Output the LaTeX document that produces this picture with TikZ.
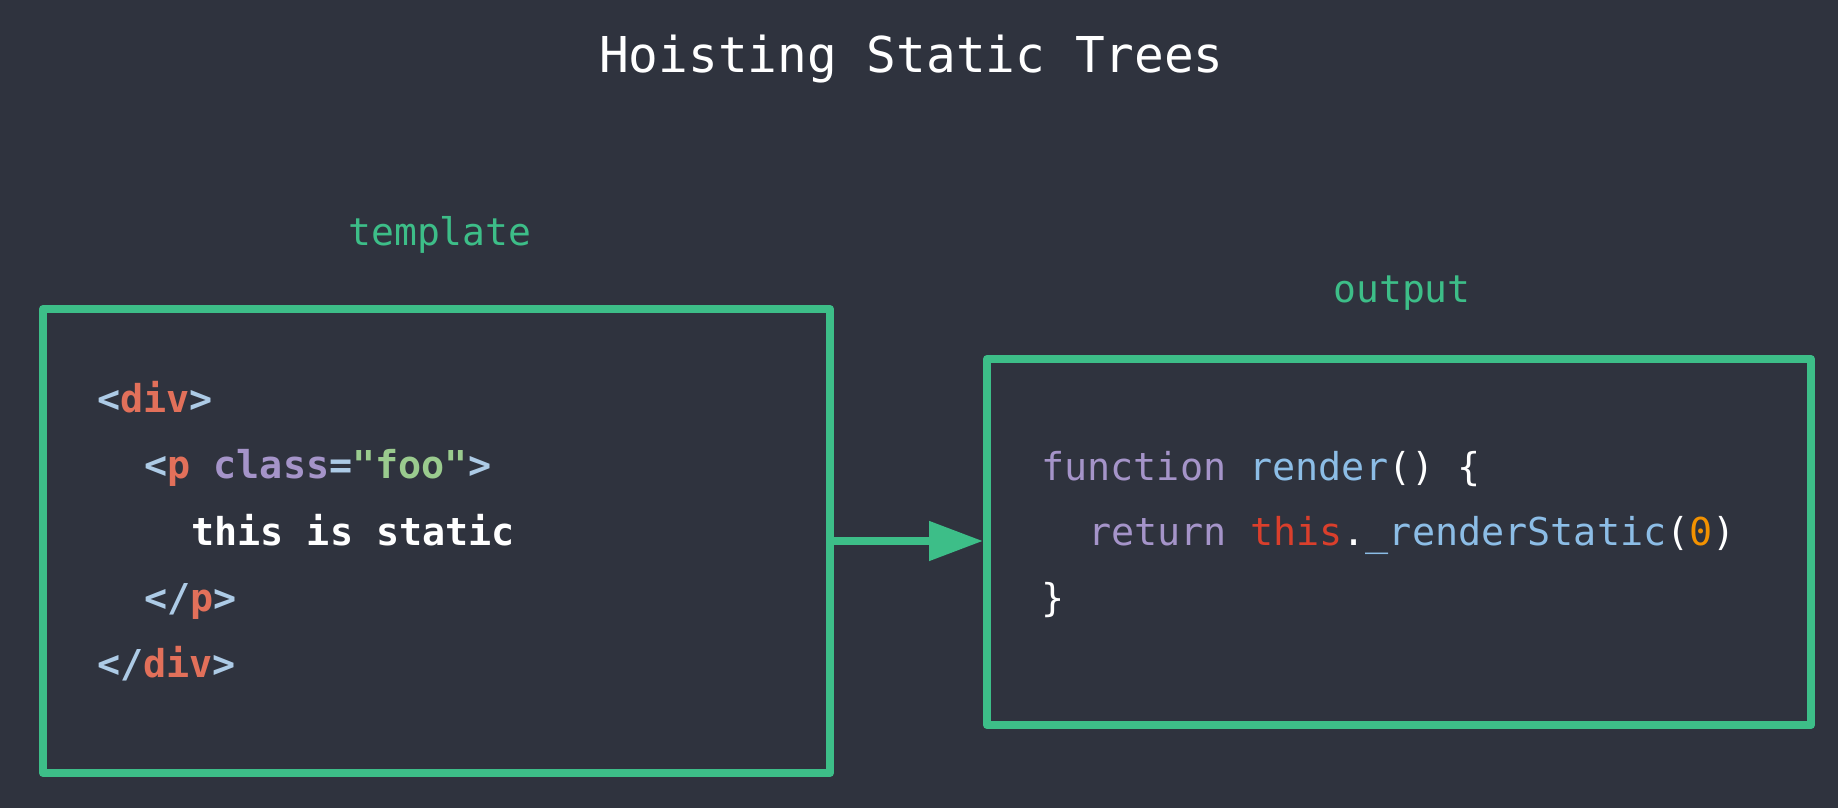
\documentclass[tikz,border=0pt]{standalone}
\usepackage{fontspec}
\setmonofont{DejaVu Sans Mono}
\usetikzlibrary{arrows.meta}
\definecolor{bg}{HTML}{2F333E}
\definecolor{vgreen}{HTML}{3DBE88}
\definecolor{tagblue}{HTML}{ADCBE6}
\definecolor{tagred}{HTML}{E2705A}
\definecolor{attrpurple}{HTML}{A594C9}
\definecolor{strgreen}{HTML}{9ACB8E}
\definecolor{fnblue}{HTML}{8CBDE6}
\definecolor{thisred}{HTML}{DA3F2C}
\definecolor{numorange}{HTML}{F39200}
\begin{document}
\begin{tikzpicture}[x=0.5pt,y=-0.5pt,
  box/.style={draw=vgreen,line width=4pt,line join=round,inner sep=0pt},
  code/.style={anchor=base west,inner sep=0pt,text=white,font=\ttfamily\fontsize{19.2}{24}\selectfont},
  boldcode/.style={code,font=\ttfamily\bfseries\fontsize{19.2}{24}\selectfont},
  label/.style={anchor=base,inner sep=0pt,text=vgreen,font=\ttfamily\fontsize{19}{23}\selectfont}]
\fill[color=bg] (0,0) rectangle (1838,808);

\node[anchor=base,inner sep=0pt,text=white,font=\ttfamily\fontsize{24.7}{30}\selectfont] (title) at (911.5,73) {Hoisting Static Trees};

\node[label] (tlabel) at (440,245) {template};
\node[box,minimum width=393.5pt,minimum height=232pt] (tmpl) at (436.5,541) {};
\node[boldcode] (t1) at (97,412) {\textcolor{tagblue}{<}\textcolor{tagred}{div}\textcolor{tagblue}{>}};
\node[boldcode] (t2) at (144,478) {\textcolor{tagblue}{<}\textcolor{tagred}{p} \textcolor{attrpurple}{class}\textcolor{tagblue}{=}\textcolor{strgreen}{"foo"}\textcolor{tagblue}{>}};
\node[boldcode] (t3) at (191,545) {this is static};
\node[boldcode] (t4) at (144,611) {\textcolor{tagblue}{</}\textcolor{tagred}{p}\textcolor{tagblue}{>}};
\node[boldcode] (t5) at (97,677) {\textcolor{tagblue}{</}\textcolor{tagred}{div}\textcolor{tagblue}{>}};

\node[label] (olabel) at (1402,302) {output};
\node[box,minimum width=412pt,minimum height=183pt] (out) at (1399,542) {};
\node[code] (o1) at (1041,480) {\textcolor{attrpurple}{function} \textcolor{fnblue}{render}() \{};
\node[code] (o2) at (1088,545) {\textcolor{attrpurple}{return} \textcolor{thisred}{this}.\textcolor{fnblue}{\_renderStatic}(\textcolor{numorange}{0})};
\node[code] (o3) at (1041,611) {\}};

\path[draw,color=vgreen,line width=4pt,-{Triangle[length=27pt,width=19pt]}] (tmpl.east) -- (tmpl.east -| out.west);
\end{tikzpicture}
\end{document}
